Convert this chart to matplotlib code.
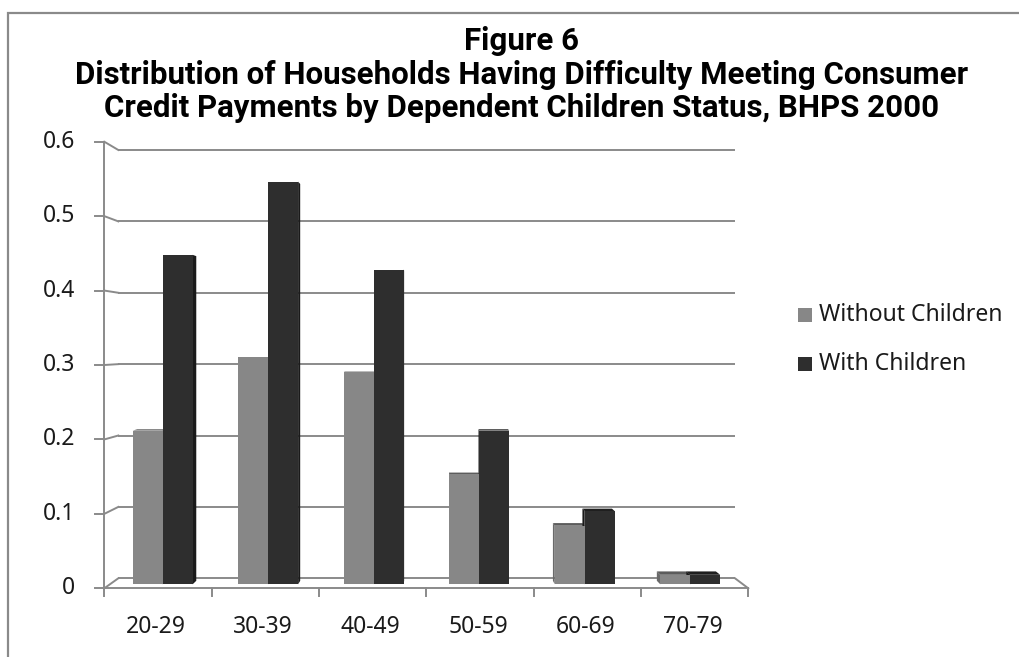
import matplotlib
matplotlib.use("Agg")
import matplotlib.pyplot as plt
from matplotlib.patches import Polygon, Rectangle

# ---- data -------------------------------------------------------------
categories = ["20-29", "30-39", "40-49", "50-59", "60-69", "70-79"]
without_children = [0.21, 0.31, 0.29, 0.15, 0.08, 0.013]
with_children = [0.45, 0.55, 0.43, 0.21, 0.10, 0.013]
series_names = ["Without Children", "With Children"]
y_ticks = [0.0, 0.1, 0.2, 0.3, 0.4, 0.5, 0.6]
y_tick_labels = ["0", "0.1", "0.2", "0.3", "0.4", "0.5", "0.6"]
title_lines = [
    "Figure 6",
    "Distribution of Households Having Difficulty Meeting Consumer",
    "Credit Payments by Dependent Children Status, BHPS 2000",
]

# ---- style --------------------------------------------------------------
plt.rcParams["font.family"] = ["Noto Sans", "DejaVu Sans"]
title_family = ["Liberation Sans Narrow", "Roboto", "DejaVu Sans"]
face_colors = ["#878787", "#2e2e2e"]
side_colors = ["#6a6a6a", "#1a1a1a"]
top_colors = ["#5c5c5c", "#1f1f1f"]
grid_color = "#8a8a8a"
text_color = "#1a1a1a"

W, H, DPI = 1020, 657, 100
fig = plt.figure(figsize=(W / DPI, H / DPI), dpi=DPI)
fig.patch.set_facecolor("white")

# One axes spanning the figure; data units: 1 x-unit = one category,
# 1 y-unit = value 1.0, both measured on the plane of the bar fronts.
X0, XS = 109.9, 105.5   # pixel of x=0, pixels per category
Y0, YS = 584.3, 732.0   # pixel row of y=0, pixels per unit value
ax = fig.add_axes([0, 0, 1, 1])
ax.set_axis_off()
ax.set_xlim(-X0 / XS, (W - X0) / XS)
ax.set_ylim((Y0 - H) / YS, Y0 / YS)


def px_x(px):
    return (px - X0) / XS


def px_y(py):
    return (Y0 - py) / YS


# Simple depth model of the 3-D plot box: d = 0 front plane, d = 1 back wall.
FRONT = dict(x0=-0.0531, xs=1.01738, y0=-0.00546, ys=1.01683)
BACK = dict(x0=0.0796, xs=0.97424, y0=0.0082, ys=0.9752)
BAR_D0, BAR_D1 = 0.4, 0.75  # depth extent of the columns


def proj(x, v, d):
    xs = FRONT["xs"] * (1 - d) + BACK["xs"] * d
    x0 = FRONT["x0"] * (1 - d) + BACK["x0"] * d
    ys = FRONT["ys"] * (1 - d) + BACK["ys"] * d
    y0 = FRONT["y0"] * (1 - d) + BACK["y0"] * d
    return x0 + xs * x, y0 + ys * v


n = len(categories)
lw = 1.4

# back-wall gridlines and left side-wall connectors
for v in y_ticks:
    bx0, by = proj(0, v, 1)
    bx1, _ = proj(n, v, 1)
    fx, fy = proj(0, v, 0)
    ax.plot([bx0, bx1], [by, by], color=grid_color, lw=lw, zorder=1,
            solid_capstyle="butt")
    ax.plot([fx, bx0], [fy, by], color=grid_color, lw=lw, zorder=1)

# floor outline
fl = proj(0, 0, 0)
fr = proj(n, 0, 0)
br = proj(n, 0, 1)
ax.plot([fl[0], fr[0]], [fl[1], fr[1]], color=grid_color, lw=lw, zorder=2)
ax.plot([fr[0], br[0]], [fr[1], br[1]], color=grid_color, lw=lw, zorder=2)

# vertical axis on the front plane, with ticks and labels
top = proj(0, y_ticks[-1], 0)
ax.plot([fl[0], top[0]], [fl[1], top[1]], color=grid_color, lw=lw, zorder=2)
tick_len = 9 / XS
for v, lab in zip(y_ticks, y_tick_labels):
    fx, fy = proj(0, v, 0)
    ax.plot([fx - tick_len, fx], [fy, fy], color=grid_color, lw=lw, zorder=2)
    ax.text(fx - 29 / XS, fy, lab, ha="right", va="center",
            fontsize=16.5, color=text_color)

# category ticks and labels under the front floor edge
for i in range(n + 1):
    fx, fy = proj(i, 0, 0)
    ax.plot([fx, fx], [fy, fy - 8 / YS], color=grid_color, lw=lw, zorder=2)
for i, lab in enumerate(categories):
    cx, _ = proj(i + 0.5, 0, 0)
    ax.text(cx - 2 / XS, px_y(627), lab, ha="center", va="center",
            fontsize=16.5, color=text_color)

# columns
bar_w = 0.284
series = [without_children, with_children]
offsets = [-bar_w / 2, bar_w / 2]
containers = []
for s, (vals, off) in enumerate(zip(series, offsets)):
    xs = [i + 0.5 + off for i in range(n)]
    bc = ax.bar(xs, vals, width=bar_w, color=face_colors[s], zorder=5,
                linewidth=0)
    containers.append(bc)
    for x, v in zip(xs, vals):
        xl, xr = x - bar_w / 2, x + bar_w / 2
        # right-hand side face (visible left of centre)
        if proj(xr, 0, BAR_D1)[0] > proj(xr, 0, BAR_D0)[0]:
            pts = [proj(xr, 0, BAR_D0), proj(xr, v, BAR_D0),
                   proj(xr, v, BAR_D1), proj(xr, 0, BAR_D1)]
            ax.add_patch(Polygon(pts, closed=True, fc=side_colors[s],
                                 ec="none", zorder=4))
        # left-hand side face (visible right of centre)
        if proj(xl, 0, BAR_D1)[0] < proj(xl, 0, BAR_D0)[0]:
            pts = [proj(xl, 0, BAR_D0), proj(xl, v, BAR_D0),
                   proj(xl, v, BAR_D1), proj(xl, 0, BAR_D1)]
            ax.add_patch(Polygon(pts, closed=True, fc=side_colors[s],
                                 ec="none", zorder=4))
        # top face (visible for short columns)
        if proj(xl, v, BAR_D1)[1] > proj(xl, v, BAR_D0)[1]:
            pts = [proj(xl, v, BAR_D0), proj(xr, v, BAR_D0),
                   proj(xr, v, BAR_D1), proj(xl, v, BAR_D1)]
            ax.add_patch(Polygon(pts, closed=True, fc=top_colors[s],
                                 ec="none", zorder=4))

# legend
for k, name in enumerate(series_names):
    yc = 315 + 49 * k
    ax.add_patch(Rectangle((px_x(798), px_y(yc + 7)), 14 / XS, 14 / YS,
                           fc=face_colors[k], ec="none", zorder=6))
    ax.text(px_x(819), px_y(yc), name, ha="left", va="center",
            fontsize=16.5, color=text_color)

# title
for line, yc in zip(title_lines, [41, 75, 108]):
    fig.text(522 / W, 1 - yc / H, line, ha="center", va="center",
             fontsize=22.5, fontweight="bold", color="black",
             family=title_family)

# chart border
fig.patches.append(Rectangle((8 / W, -0.1), 1.2, 1 - 13 / H + 0.1,
                             transform=fig.transFigure, fill=False,
                             ec="#8a8a8a", lw=1.6))

fig.savefig("out.png", dpi=DPI)
